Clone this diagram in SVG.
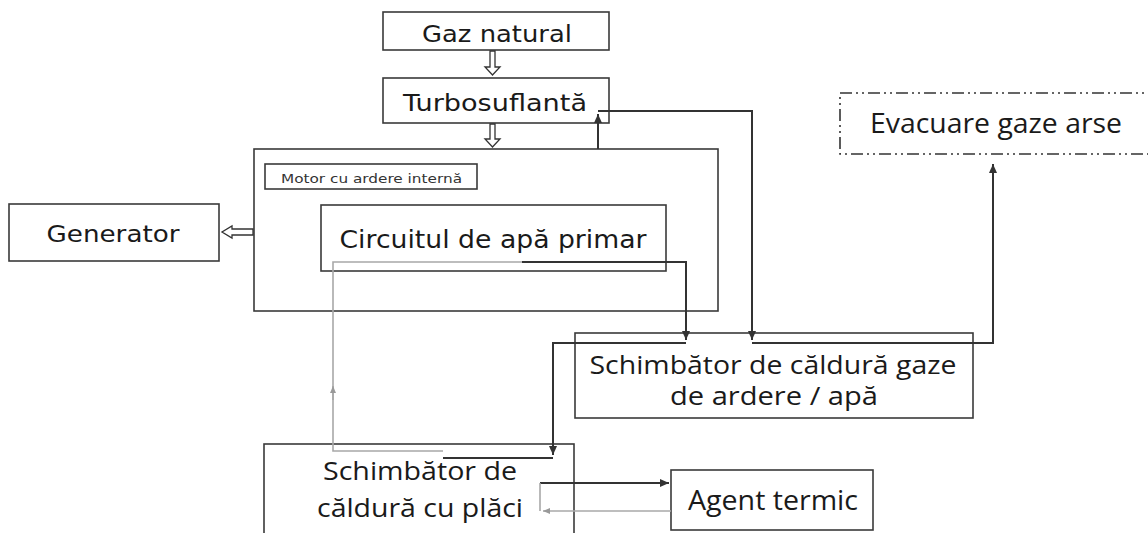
<svg xmlns="http://www.w3.org/2000/svg" width="1148" height="533" viewBox="0 0 1148 533">
<style>
.box{fill:#fff;stroke:#3a3a3a;stroke-width:1.6}
.t{font-family:"DejaVu Sans","Open Sans",sans-serif;fill:#1a1a1a;text-anchor:middle}
.c{font-family:"Open Sans","Liberation Sans",sans-serif;fill:#1a1a1a;text-anchor:middle}
.dk{fill:none;stroke:#333;stroke-width:2}
.gr{fill:none;stroke:#a8a8a8;stroke-width:1.6}
.hollow{fill:#fff;stroke:#333;stroke-width:1.3}
</style>
<defs>
<marker id="ad" markerUnits="userSpaceOnUse" markerWidth="10" markerHeight="10" refX="9" refY="5" orient="auto"><path d="M0,1 L9,5 L0,9 z" fill="#333"/></marker>
<marker id="ag" markerUnits="userSpaceOnUse" markerWidth="8" markerHeight="8" refX="7" refY="4" orient="auto"><path d="M0,1 L7,4 L0,7 z" fill="#999"/></marker>
</defs>
<rect width="1148" height="533" fill="#fff"/>

<g id="gaz-natural"><rect class="box" x="383" y="12" width="226" height="38"/><text class="t" x="497" y="42" font-size="23" textLength="150" lengthAdjust="spacingAndGlyphs">Gaz natural</text></g>
<g id="turbosuflanta"><rect class="box" x="383" y="78" width="226" height="45"/><text class="t" x="495" y="111" font-size="23" textLength="184" lengthAdjust="spacingAndGlyphs">Turbosuflantă</text></g>
<g id="motor"><rect class="box" x="254" y="149" width="464" height="162"/>
<rect class="box" x="265" y="164" width="212" height="25" stroke-width="1.3"/><text x="281" y="183" font-size="13" font-family="DejaVu Sans, Open Sans, sans-serif" fill="#333" textLength="181" lengthAdjust="spacingAndGlyphs">Motor cu ardere internă</text></g>
<g id="circuitul"><rect class="box" x="321" y="205" width="345" height="66"/><text class="t" x="493" y="248" font-size="24" textLength="307" lengthAdjust="spacingAndGlyphs">Circuitul de apă primar</text></g>
<g id="generator"><rect class="box" x="9" y="204" width="210" height="57"/><text class="t" x="113" y="242" font-size="23" textLength="133" lengthAdjust="spacingAndGlyphs">Generator</text></g>
<g id="evacuare"><path d="M1160,93 H840 V154 H1160" fill="none" stroke="#333" stroke-width="1.6" stroke-dasharray="12,4,2,4,2,4"/><text class="c" x="996" y="133" font-size="27" textLength="252" lengthAdjust="spacingAndGlyphs">Evacuare gaze arse</text></g>
<g id="schimbator-gaze"><rect class="box" x="575" y="333" width="398" height="85"/><text class="c" x="773" y="374" font-size="25" textLength="367" lengthAdjust="spacingAndGlyphs">Schimbător de căldură gaze</text><text class="c" x="774" y="405" font-size="25" textLength="208" lengthAdjust="spacingAndGlyphs">de ardere / apă</text></g>
<g id="schimbator-placi"><rect class="box" x="264" y="444" width="310" height="100"/><text class="c" x="420" y="480" font-size="26" textLength="194" lengthAdjust="spacingAndGlyphs">Schimbător de</text><text class="c" x="420" y="517" font-size="26" textLength="206" lengthAdjust="spacingAndGlyphs">căldură cu plăci</text></g>
<g id="agent-termic"><rect class="box" x="671" y="470" width="202" height="60"/><text class="c" x="773" y="510" font-size="27" textLength="170" lengthAdjust="spacingAndGlyphs">Agent termic</text></g>

<g id="connectors">
<path class="hollow" d="M490,51 H495 V67 H500 L492.5,75 L485,67 H490 Z"/>
<path class="hollow" d="M490,124 H495 V139 H500 L492.5,147 L485,139 H490 Z"/>
<path class="hollow" d="M253,229 V235 H232 V238 L222,232 L232,226 V229 Z"/>
<path class="dk" d="M598,149 V114" marker-end="url(#ad)"/>
<path class="dk" d="M598,111 H752 V340" marker-end="url(#ad)"/>
<path class="gr" d="M443,451 H333 V262 H522"/>
<path class="gr" d="M333,400 V386" marker-end="url(#ag)"/>
<path class="dk" d="M522,262 H686 V340" marker-end="url(#ad)"/>
<path class="dk" d="M686,343 H553 V455" marker-end="url(#ad)"/>
<path class="dk" d="M553,458 H443"/>
<path class="dk" d="M752,343 H993 V164" marker-end="url(#ad)"/>
<path class="dk" d="M540,483 H669" marker-end="url(#ad)"/>
<path class="gr" d="M671,511 H543" marker-end="url(#ag)"/>
<path class="gr" d="M540,483 V511"/>
</g>
</svg>
